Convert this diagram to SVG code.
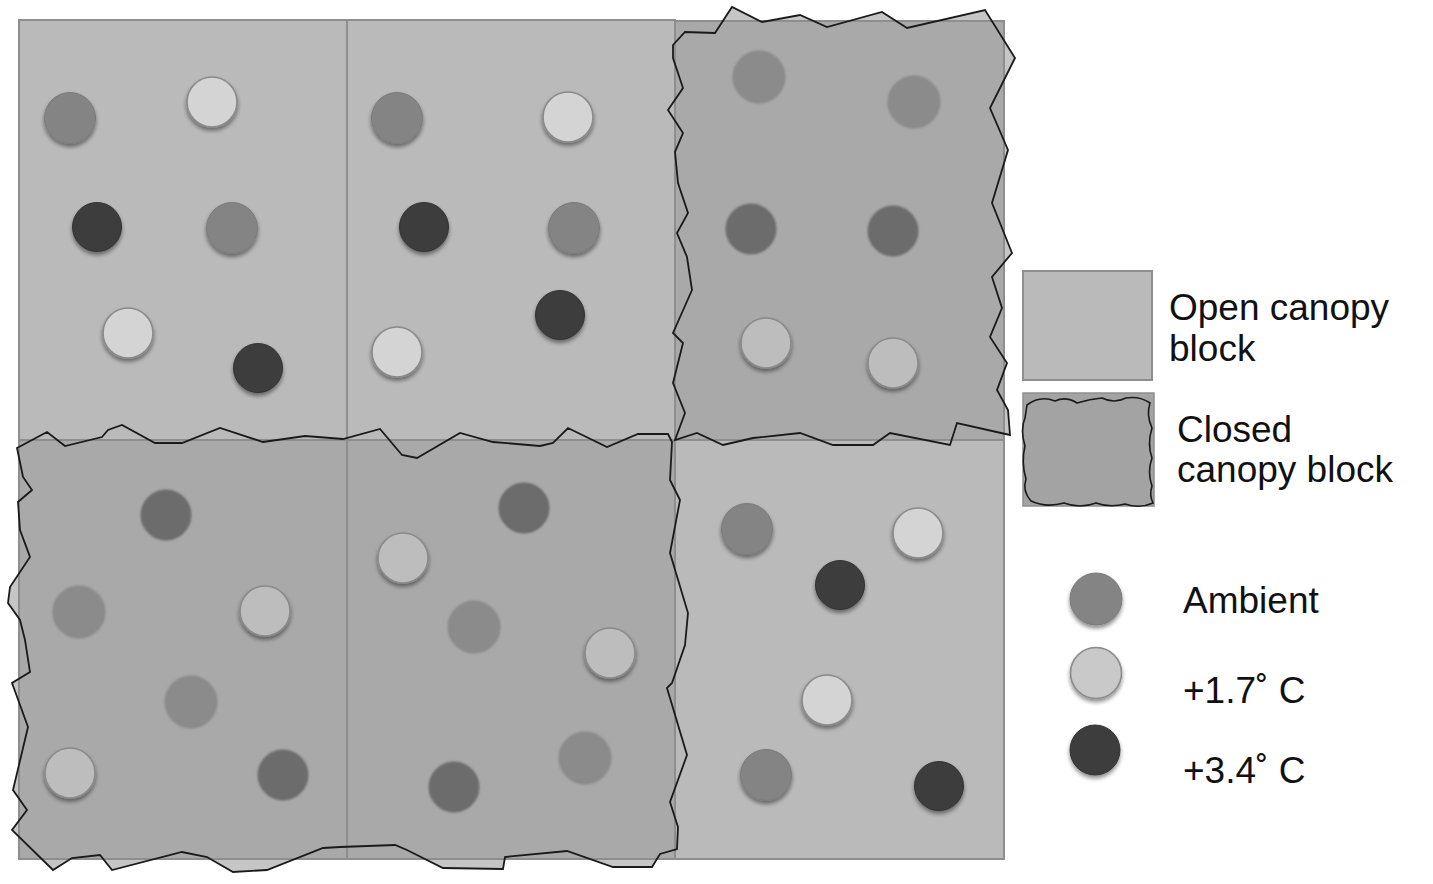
<svg xmlns="http://www.w3.org/2000/svg" width="1433" height="884" viewBox="0 0 1433 884">
<defs>
<filter id="sh" x="-40%" y="-40%" width="180%" height="190%">
<feGaussianBlur in="SourceAlpha" stdDeviation="2.2"/>
<feOffset dy="2.5" result="b"/>
<feComponentTransfer><feFuncA type="linear" slope="0.45"/></feComponentTransfer>
<feMerge><feMergeNode/><feMergeNode in="SourceGraphic"/></feMerge>
</filter>
<filter id="soft" x="-40%" y="-40%" width="180%" height="180%">
<feGaussianBlur stdDeviation="1.2"/>
</filter>
</defs>
<style>
.open{fill:#bababa;stroke:#8e8e8e;stroke-width:2}
.closed{fill:#a9a9a9;stroke:#8e8e8e;stroke-width:2}
.halo{fill:#c6c6c6;stroke:none}
.jag{fill:none;stroke:#1a1a1a;stroke-width:1.8;stroke-linejoin:miter}
.amb{fill:#848484;stroke:#7a7a7a;stroke-width:1}
.lt{fill:#d4d4d4;stroke:#8a8a8a;stroke-width:1.6}
.dk{fill:#3d3d3d;stroke:#333;stroke-width:1}
.camb{fill:#8b8b8b;stroke:#848484;stroke-width:1}
.cdk{fill:#6c6c6c;stroke:#666;stroke-width:1}
.clt{fill:#bdbdbd;stroke:#8a8a8a;stroke-width:1.6}
text{font-family:"Liberation Sans",Arial,sans-serif;font-size:37px;fill:#111}
</style>
<rect x="0" y="0" width="1433" height="884" fill="#ffffff"/>

<!-- halo fills of closed canopy outlines (beneath blocks) -->
<polygon class="halo" points="673,45 685,32 715,33 732,7 762,22 800,15 827,27 882,12 907,28 985,10 1015,58 990,108 1008,150 992,203 1012,253 992,277 1002,308 990,337 1007,363 997,390 1008,410 1010,435 957,423 950,445 890,433 873,445 833,445 800,433 753,438 723,445 697,433 675,440 685,413 673,383 683,343 673,333 692,290 687,257 677,233 688,213 678,183 675,152 683,133 668,110 683,88 673,58"/>
<polygon class="halo" points="17,448 47,432 65,446 102,437 108,430 122,425 155,443 182,443 220,428 263,442 305,436 343,439 380,429 402,455 417,458 460,433 493,442 540,446 553,443 568,428 607,447 638,434 668,434 672,442 670,480 680,500 670,553 688,613 685,645 672,683 667,688 687,755 670,802 678,827 677,849 660,854 652,867 613,867 567,851 505,857 503,869 443,868 407,850 395,845 340,847 323,848 267,870 233,872 207,857 182,852 112,870 100,855 72,858 53,870 12,830 27,810 13,790 28,727 12,683 30,672 25,640 20,620 8,603 10,587 30,557 20,530 18,502 32,490 23,477"/>

<g id="block-top-left">
<rect class="open" x="19" y="20" width="328" height="420"/>
<circle class="amb" cx="70" cy="118" r="25.5" filter="url(#sh)"/>
<circle class="lt" cx="212" cy="102" r="25" filter="url(#sh)"/>
<circle class="dk" cx="97" cy="227" r="24.5" filter="url(#sh)"/>
<circle class="amb" cx="232" cy="228" r="25.5" filter="url(#sh)"/>
<circle class="lt" cx="128" cy="333" r="25" filter="url(#sh)"/>
<circle class="dk" cx="258" cy="368" r="24.5" filter="url(#sh)"/>
</g>

<g id="block-top-middle">
<rect class="open" x="347" y="20" width="328" height="420"/>
<circle class="amb" cx="397" cy="118" r="25.5" filter="url(#sh)"/>
<circle class="lt" cx="568" cy="117" r="25" filter="url(#sh)"/>
<circle class="dk" cx="424" cy="227" r="24.5" filter="url(#sh)"/>
<circle class="amb" cx="574" cy="228" r="25.5" filter="url(#sh)"/>
<circle class="dk" cx="560" cy="315" r="24.5" filter="url(#sh)"/>
<circle class="lt" cx="397" cy="352" r="25" filter="url(#sh)"/>
</g>

<g id="block-top-right">
<rect class="closed" x="675" y="21" width="329" height="419"/>
<circle class="camb" cx="759" cy="77" r="26" filter="url(#soft)"/>
<circle class="camb" cx="914" cy="102" r="26" filter="url(#soft)"/>
<circle class="cdk" cx="751" cy="229" r="25" filter="url(#soft)"/>
<circle class="cdk" cx="893" cy="231" r="25" filter="url(#soft)"/>
<circle class="clt" cx="766" cy="343" r="25" filter="url(#sh)"/>
<circle class="clt" cx="893" cy="363" r="25" filter="url(#sh)"/>
</g>

<g id="block-bottom-left">
<rect class="closed" x="19" y="440" width="328" height="419"/>
<circle class="cdk" cx="166" cy="515" r="25" filter="url(#soft)"/>
<circle class="camb" cx="79" cy="612" r="26" filter="url(#soft)"/>
<circle class="clt" cx="265" cy="611" r="25" filter="url(#sh)"/>
<circle class="camb" cx="191" cy="702" r="26" filter="url(#soft)"/>
<circle class="clt" cx="70" cy="773" r="25" filter="url(#sh)"/>
<circle class="cdk" cx="283" cy="775" r="25" filter="url(#soft)"/>
</g>

<g id="block-bottom-middle">
<rect class="closed" x="347" y="440" width="328" height="419"/>
<circle class="cdk" cx="524" cy="508" r="25" filter="url(#soft)"/>
<circle class="clt" cx="403" cy="558" r="25" filter="url(#sh)"/>
<circle class="camb" cx="474" cy="627" r="26" filter="url(#soft)"/>
<circle class="clt" cx="610" cy="653" r="25" filter="url(#sh)"/>
<circle class="camb" cx="585" cy="758" r="26" filter="url(#soft)"/>
<circle class="cdk" cx="454" cy="787" r="25" filter="url(#soft)"/>
</g>

<g id="block-bottom-right">
<rect class="open" x="675" y="440" width="329" height="419"/>
<circle class="amb" cx="747" cy="529" r="25.5" filter="url(#sh)"/>
<circle class="lt" cx="918" cy="533" r="25" filter="url(#sh)"/>
<circle class="dk" cx="840" cy="585" r="24.5" filter="url(#sh)"/>
<circle class="lt" cx="827" cy="700" r="25" filter="url(#sh)"/>
<circle class="amb" cx="766" cy="775" r="25.5" filter="url(#sh)"/>
<circle class="dk" cx="939" cy="786" r="24.5" filter="url(#sh)"/>
</g>

<g id="closed-outlines">
<polygon class="jag" points="673,45 685,32 715,33 732,7 762,22 800,15 827,27 882,12 907,28 985,10 1015,58 990,108 1008,150 992,203 1012,253 992,277 1002,308 990,337 1007,363 997,390 1008,410 1010,435 957,423 950,445 890,433 873,445 833,445 800,433 753,438 723,445 697,433 675,440 685,413 673,383 683,343 673,333 692,290 687,257 677,233 688,213 678,183 675,152 683,133 668,110 683,88 673,58"/>
<polygon class="jag" points="17,448 47,432 65,446 102,437 108,430 122,425 155,443 182,443 220,428 263,442 305,436 343,439 380,429 402,455 417,458 460,433 493,442 540,446 553,443 568,428 607,447 638,434 668,434 672,442 670,480 680,500 670,553 688,613 685,645 672,683 667,688 687,755 670,802 678,827 677,849 660,854 652,867 613,867 567,851 505,857 503,869 443,868 407,850 395,845 340,847 323,848 267,870 233,872 207,857 182,852 112,870 100,855 72,858 53,870 12,830 27,810 13,790 28,727 12,683 30,672 25,640 20,620 8,603 10,587 30,557 20,530 18,502 32,490 23,477"/>
</g>

<g id="legend-open">
<rect class="open" x="1023" y="271" width="129" height="109"/>
<text x="1169" y="320">Open canopy</text>
<text x="1169" y="361">block</text>
</g>

<g id="legend-closed">
<rect x="1023" y="393" width="131" height="113" fill="#a3a3a3" stroke="#8e8e8e" stroke-width="1.5"/>
<path d="M1027,405 Q1040,395 1055,401 Q1066,396 1077,403 Q1090,399 1102,398 Q1114,404 1126,398 Q1140,396 1150,403 Q1146,415 1152,428 Q1147,444 1152,458 Q1147,472 1152,486 Q1149,495 1153,503 Q1140,509 1125,504 Q1110,508 1096,503 Q1080,509 1064,503 Q1046,508 1031,501 Q1022,491 1026,479 Q1021,462 1025,446 Q1020,430 1025,418 Z" fill="none" stroke="#1a1a1a" stroke-width="1.6"/>
<text x="1177" y="442">Closed</text>
<text x="1177" y="482">canopy block</text>
</g>

<g id="legend-ambient">
<circle class="amb" cx="1096" cy="599" r="26" filter="url(#sh)"/>
<text x="1183" y="613">Ambient</text>
</g>
<g id="legend-17">
<circle class="lt" cx="1096" cy="673" r="25.5" filter="url(#sh)" style="fill:#c9c9c9"/>
<text x="1183" y="703">+1.7˚ C</text>
</g>
<g id="legend-34">
<circle class="dk" cx="1095" cy="750" r="25" filter="url(#sh)"/>
<text x="1183" y="783">+3.4˚ C</text>
</g>
</svg>
